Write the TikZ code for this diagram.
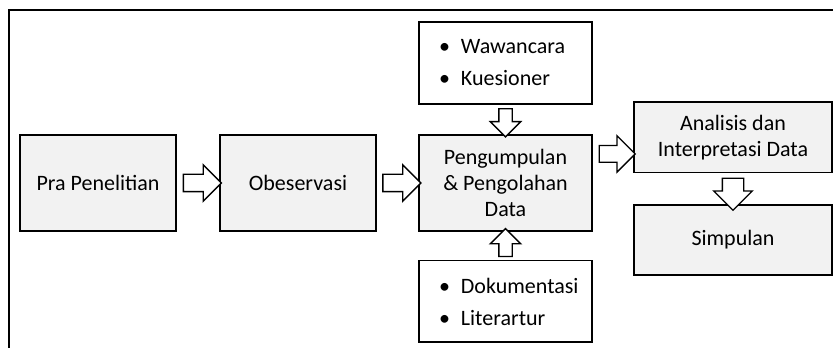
\documentclass[tikz,border=0pt]{standalone}
\usepackage{fontspec}
\setmainfont{Carlito}
\usetikzlibrary{shapes.arrows,calc}
\definecolor{boxgray}{HTML}{F2F2F2}

\begin{document}
\begin{tikzpicture}[x=0.75pt, y=-0.75pt,
    stage/.style={rectangle, draw, line width=1pt, fill=boxgray, align=center,
      font=\fontsize{16.5}{19.5}\selectfont},
    listbox/.style={rectangle, draw, line width=1pt, fill=white, align=left,
      minimum width=129.75pt, text width=99.75pt, inner xsep=15pt,
      font=\fontsize{16.5}{24}\selectfont},
    blockarrow/.style n args={3}{single arrow, draw, fill=white, line width=1pt,
      minimum height=#1, minimum width=#2, inner sep=#3, single arrow head extend=(#2-2*#3)/2}]
  \useasboundingbox (0,0) rectangle (833,348);
  \draw[line width=1.2pt] (9,348) -- (9,10) -- (833,10);
  \node[stage, minimum width=117pt, minimum height=72pt] (pra) at (98,183) {Pra Penelitian};
  \node[stage, minimum width=117pt, minimum height=72pt] (obs) at (298,183) {Obeservasi};
  \node[stage, minimum width=129.75pt, minimum height=72pt] (olah) at (505.5,183) {Pengumpulan\\\& Pengolahan\\Data};
  \node[listbox, minimum height=61.5pt] (wawan) at (505.5,63) {\textbullet\enspace Wawancara\\\textbullet\enspace Kuesioner};
  \node[listbox, minimum height=61pt] (doku) at (505.5,301.5) {\textbullet\enspace Dokumentasi\\\textbullet\enspace Literartur};
  \node[stage, minimum width=148.5pt, minimum height=53pt] (analisis) at (733,137.5) {Analisis dan\\Interpretasi Data};
  \node[stage, minimum width=148.5pt, minimum height=52.5pt] (simpulan) at (733,240) {Simpulan};
  % panah blok
  \node[blockarrow={28.5pt}{26.25pt}{6pt}] (p1) at ($(pra.east)!0.5!(obs.west)$) {};
  \node[blockarrow={28.5pt}{26.25pt}{6pt}] (p2) at ($(obs.east)!0.5!(olah.west)$) {};
  \node[blockarrow={21pt}{21.75pt}{4.5pt}, rotate=-90] (p3) at ($(wawan.south)!0.5!(olah.north)$) {};
  \node[blockarrow={21pt}{21.75pt}{4.5pt}, rotate=90] (p4) at ($(doku.north)!0.5!(olah.south)$) {};
  \node[blockarrow={27pt}{26.25pt}{5.75pt}] (p5) at ($(olah.north east)!0.5!(analisis.south west)$) {};
  \node[blockarrow={23.25pt}{27.75pt}{7.5pt}, rotate=-90] (p6) at ($(analisis.south)!0.5!(simpulan.north)$) {};
\end{tikzpicture}
\end{document}
